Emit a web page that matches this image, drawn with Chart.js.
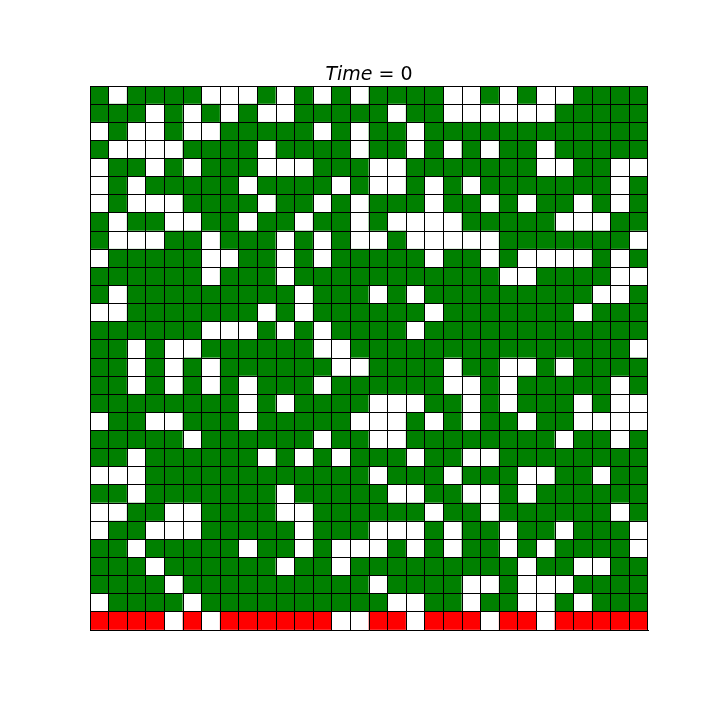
<!DOCTYPE html>
<html>
<head>
<meta charset="utf-8">
<script src="https://cdn.jsdelivr.net/npm/chart.js@4.4.1/dist/chart.umd.min.js"></script>
<style>
  html, body { margin: 0; padding: 0; background: #ffffff; }
  #wrap { width: 720px; height: 720px; }
</style>
</head>
<body>
<div id="wrap"><canvas id="c" width="720" height="720"></canvas></div>
<script>
// Column categories (30 columns)
const columns = Array.from({length: 30}, (_, i) => String(i + 1));
// Cell states: 0 = empty (white), 1 = tree (green), 2 = burning (red); row 0 is the top row
const stateNames = ['empty', 'tree', 'fire'];
const stateColors = ['#ffffff', '#008000', '#ff0000'];
const titleTime = 0;
const grid = [
  [1,0,1,1,1,1,0,0,0,1,0,1,0,1,0, 1,1,1,1,0,0,1,0,1,0,0,1,1,1,1],
  [1,1,1,0,1,0,1,0,1,0,0,1,1,1,1, 1,0,1,1,0,0,0,0,0,0,1,1,1,1,1],
  [0,1,0,0,1,0,0,1,1,1,1,1,0,1,0, 1,1,0,1,1,1,1,1,1,1,1,1,1,1,1],
  [1,0,0,0,0,1,1,1,1,0,1,1,1,1,0, 1,1,0,1,0,1,0,1,1,0,1,1,1,1,1],
  [0,1,1,0,1,0,1,1,1,0,0,0,1,1,1, 0,0,1,1,1,1,1,1,1,0,0,1,1,0,0],
  [0,1,0,1,1,1,1,1,0,1,1,1,1,0,1, 0,0,1,0,1,0,1,1,1,1,1,1,1,0,1],
  [0,1,0,0,0,1,1,1,1,0,1,1,0,1,0, 1,1,1,0,1,1,0,1,0,1,1,0,1,0,1],
  [1,0,1,1,0,0,1,1,0,1,1,0,1,1,0, 1,0,0,0,0,1,1,1,1,1,0,0,0,1,1],
  [1,0,0,0,1,1,0,1,1,1,0,1,0,1,0, 0,1,0,0,0,0,0,1,1,1,1,1,1,1,0],
  [0,1,1,1,1,1,0,0,1,1,0,1,0,1,1, 1,1,1,0,1,1,0,1,0,0,0,0,1,0,1],
  [1,1,1,1,1,1,0,1,1,1,0,1,1,1,1, 1,1,1,1,1,1,1,0,0,1,1,1,1,0,0],
  [1,0,1,1,1,1,1,1,1,1,1,0,1,1,1, 0,1,0,1,1,1,1,1,1,1,1,1,0,0,1],
  [0,0,1,1,1,1,1,1,1,0,1,0,1,1,1, 1,1,1,0,1,1,1,1,1,1,1,0,1,1,1],
  [1,1,1,1,1,1,0,0,0,1,0,1,0,1,1, 1,1,0,1,1,1,1,1,1,1,1,1,1,1,1],
  [1,1,0,1,0,0,1,1,1,1,1,1,0,0,1, 1,1,1,1,1,1,1,1,1,1,1,1,1,1,0],
  [1,1,0,1,0,1,0,1,1,1,1,1,1,0,0, 1,1,1,1,0,1,1,0,0,1,0,1,1,1,1],
  [1,1,0,1,0,1,0,1,0,1,1,1,0,1,1, 1,1,1,1,0,0,1,0,1,1,1,1,1,0,1],
  [1,1,1,1,1,1,1,1,0,1,0,1,1,1,1, 0,0,0,1,1,0,1,0,1,1,1,0,1,0,0],
  [0,1,1,0,0,1,1,1,0,1,1,1,1,1,0, 0,0,1,0,1,0,1,1,0,1,1,0,0,0,0],
  [1,1,1,1,1,0,1,1,1,1,1,1,0,1,1, 0,0,1,1,1,1,1,1,1,1,0,1,1,0,1],
  [1,1,0,1,1,1,1,1,1,0,1,0,1,0,1, 1,1,0,1,1,0,0,1,1,1,1,1,1,1,1],
  [0,0,0,1,1,1,1,1,1,1,1,1,1,1,1, 0,1,1,1,0,1,1,1,0,0,1,1,0,1,1],
  [1,1,0,1,1,1,1,1,1,1,0,1,1,1,1, 1,0,0,1,1,0,0,1,0,1,1,1,1,1,1],
  [0,0,1,1,0,0,1,1,1,1,0,0,1,1,1, 1,1,1,0,1,1,0,1,1,1,1,1,1,0,1],
  [0,1,1,0,0,0,1,1,1,1,1,0,1,1,1, 0,0,0,1,0,1,1,0,1,1,0,1,1,1,0],
  [1,1,0,1,1,1,1,1,0,1,1,0,1,0,0, 0,1,0,1,0,1,1,0,1,0,1,1,1,1,0],
  [1,1,1,0,1,1,1,1,1,1,0,1,1,0,1, 1,1,1,1,1,1,1,1,0,1,1,0,0,1,1],
  [1,1,1,1,0,1,1,1,1,1,1,1,1,1,1, 0,1,1,1,1,0,0,1,0,0,0,1,1,1,1],
  [0,1,1,1,1,0,1,1,1,1,1,1,1,1,1, 1,0,0,1,1,0,1,1,0,0,1,0,1,1,1],
  [2,2,2,2,0,2,0,2,2,2,2,2,2,0,0, 2,2,0,2,2,2,0,2,2,0,2,2,2,2,2]
];

// Each row becomes one stacked dataset (bottom row first), each cell one unit tall.
const datasets = grid.slice().reverse().map((row, i) => ({
  label: 'row ' + (grid.length - i),
  data: row.map(() => 1),
  backgroundColor: row.map(s => stateColors[s]),
  borderWidth: 0,
  borderSkipped: false,
  barPercentage: 1,
  categoryPercentage: 1
}));

const titlePlugin = {
  id: 'mathTitle',
  afterDraw(chart) {
    const ctx = chart.ctx;
    const area = chart.chartArea;
    const cx = (area.left + area.right) / 2;
    const size = 19;
    const italic = 'italic ' + size + 'px "DejaVu Sans"';
    const normal = size + 'px "DejaVu Sans"';
    const p1 = 'Time', p2 = ' = ' + titleTime;
    ctx.save();
    ctx.font = italic; const w1 = ctx.measureText(p1).width;
    ctx.font = normal; const w2 = ctx.measureText(p2).width;
    const x0 = cx - (w1 + w2) / 2;
    const y = 80;
    ctx.fillStyle = '#000000';
    ctx.textBaseline = 'alphabetic';
    ctx.textAlign = 'left';
    ctx.font = italic; ctx.fillText(p1, x0, y);
    ctx.font = normal; ctx.fillText(p2, x0 + w1, y);
    ctx.restore();
  }
};

new Chart(document.getElementById('c'), {
  type: 'bar',
  data: { labels: columns, datasets },
  plugins: [titlePlugin],
  options: {
    responsive: false,
    animation: false,
    devicePixelRatio: 1,
    layout: { padding: { left: 90, right: 72, top: 86, bottom: 90 } },
    plugins: { legend: { display: false }, tooltip: { enabled: false }, title: { display: false } },
    scales: {
      x: {
        stacked: true,
        offset: true,
        ticks: { display: false },
        grid: { display: true, offset: true, color: '#000000', lineWidth: 1, drawTicks: false, z: 1 },
        border: { display: true, color: '#000000', width: 1, z: 1 }
      },
      y: {
        stacked: true,
        min: 0,
        max: 30,
        ticks: { display: false, stepSize: 1 },
        grid: { display: true, color: '#000000', lineWidth: 1, drawTicks: false, z: 1 },
        border: { display: true, color: '#000000', width: 1, z: 1 }
      }
    }
  }
});
</script>
</body>
</html>
